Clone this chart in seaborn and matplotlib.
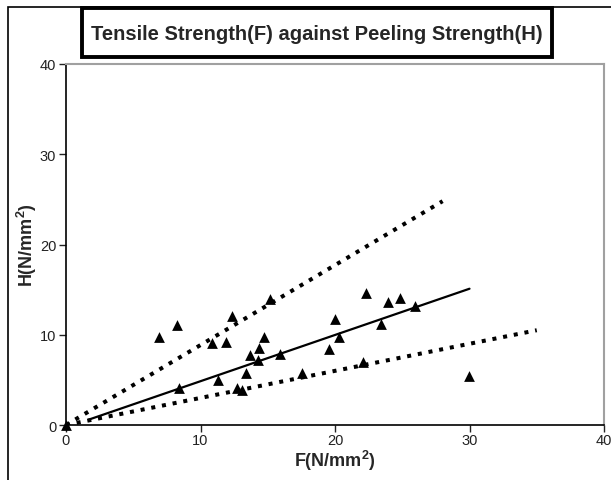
import numpy as np
import pandas as pd
import matplotlib
matplotlib.use("Agg")
import matplotlib.pyplot as plt
from matplotlib.patches import Rectangle
import seaborn as sns

# --- Data ---
tensile_f = [0.0, 6.94, 8.23, 8.43, 10.83, 11.87, 11.28, 12.37, 12.69, 13.06,
             13.38, 13.68, 14.35, 14.30, 14.70, 15.19, 15.89, 17.52, 19.58,
             20.00, 20.32, 22.10, 22.30, 23.42, 23.94, 24.81, 25.97, 29.98]
peeling_h = [0.0, 9.72, 11.10, 4.10, 9.09, 9.23, 5.02, 12.10, 4.10, 3.85,
             5.72, 7.76, 8.50, 7.24, 9.79, 14.00, 7.87, 5.72, 8.42,
             11.70, 9.72, 7.00, 14.60, 11.15, 13.66, 14.04, 13.15, 5.39]

# fitted line and upper / lower bounds (end points)
fit_f = [1.7, 30.0]
fit_h = [0.6, 15.1]
upper_f = [0.0, 28.0]
upper_h = [0.0, 24.8]
lower_f = [0.0, 35.0]
lower_h = [0.0, 10.5]

x_ticks = [0, 10, 20, 30, 40]
y_ticks = [0, 10, 20, 30, 40]

title = "Tensile Strength(F) against Peeling Strength(H)"
x_label = r"F(N/mm$^{\mathbf{2}}$)"
y_label = r"H(N/mm$^{\mathbf{2}}$)"

# --- Plot ---
sns.set_style("white")
plt.rcParams['font.family'] = ['Liberation Sans', 'DejaVu Sans']
plt.rcParams['mathtext.fontset'] = 'custom'
plt.rcParams['mathtext.bf'] = 'Liberation Sans:bold'
plt.rcParams['mathtext.rm'] = 'Liberation Sans'

W, H = 611, 481
fig = plt.figure(figsize=(W / 100, H / 100), dpi=100)
ax = fig.add_axes([66 / W, 1 - 426 / H, (604 - 66) / W, (426 - 65) / H])

pts = pd.DataFrame({'F': tensile_f, 'H': peeling_h})
dot_style = dict(color='black', lw=2.9, linestyle=(0, (1, 1.7)),
                 dash_capstyle='butt')
sns.lineplot(x=upper_f, y=upper_h, ax=ax, **dot_style)
sns.lineplot(x=lower_f, y=lower_h, ax=ax, **dot_style)
sns.lineplot(x=fit_f, y=fit_h, ax=ax, color='black', lw=1.6)
sns.scatterplot(data=pts, x='F', y='H', ax=ax, marker='^', color='black',
                s=60, edgecolor='black', linewidth=0, zorder=5, clip_on=False)

ax.set_xlim(0, 40)
ax.set_ylim(0, 40)
ax.set_xticks(x_ticks)
ax.set_yticks(y_ticks)
ax.tick_params(axis='both', direction='out', length=5, width=1,
               labelsize=10.5, colors='#222222', pad=2, left=True, bottom=True)
ax.tick_params(axis='x', pad=1)

for side in ['left', 'bottom']:
    ax.spines[side].set_color('black')
    ax.spines[side].set_linewidth(1.2)
for side in ['top', 'right']:
    ax.spines[side].set_color('#a0a0a0')
    ax.spines[side].set_linewidth(1.5)

ax.set_xlabel(x_label, fontsize=13, fontweight='bold', labelpad=0.5)
ax.set_ylabel(y_label, fontsize=13, fontweight='bold', labelpad=1)

# outer chart border (runs off the right and bottom edges)
fig.patches.append(Rectangle((8 / W, -0.1), 1.2, 1 - 7.5 / H + 0.1,
                             transform=fig.transFigure, fill=False,
                             edgecolor='black', lw=1.2))
# title box
fig.patches.append(Rectangle((82 / W, 1 - 58 / H), (552 - 82) / W, (58 - 9) / H,
                             transform=fig.transFigure, fill=True,
                             facecolor='white', edgecolor='black', lw=2.8,
                             zorder=3))
fig.text(317 / W, 1 - 34 / H, title, ha='center', va='center',
         fontsize=14.5, fontweight='bold', zorder=4)

plt.savefig('out.png', dpi=100)
